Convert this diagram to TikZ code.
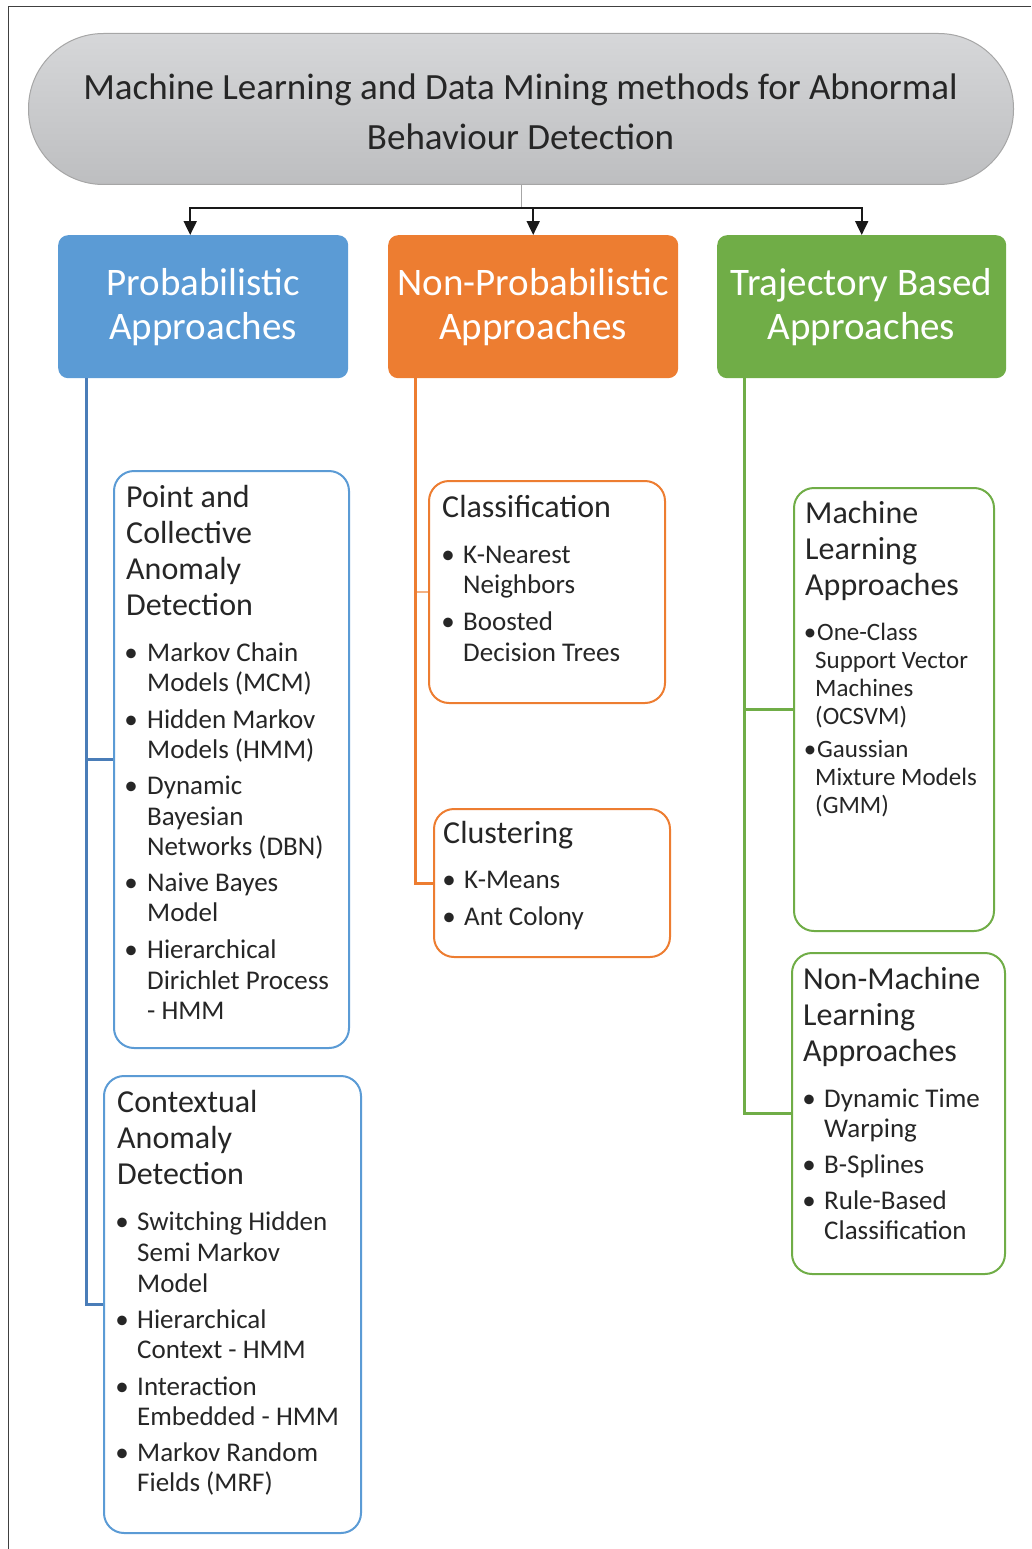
\documentclass[tikz,border=0pt]{standalone}
\usepackage{fontspec}
\setmainfont{Carlito}
\usetikzlibrary{arrows.meta}
\definecolor{txt}{HTML}{262626}
\definecolor{pblue}{HTML}{5B9BD5}
\definecolor{tblue}{HTML}{4A7DB8}
\definecolor{porange}{HTML}{ED7D31}
\definecolor{lorange}{HTML}{F4B183}
\definecolor{pgreen}{HTML}{70AD47}
\definecolor{gtop}{HTML}{D6D7D9}
\definecolor{gbot}{HTML}{BDBEC0}
\definecolor{gedge}{HTML}{A6A6A6}
\begin{document}
\begin{tikzpicture}[x=1pt,y=-1pt,
  catbox/.style={rounded corners=10pt, anchor=north west, inner sep=0pt, draw=none, minimum height=143pt},
  subbox/.style={rounded corners=20pt, anchor=north west, inner sep=0pt, fill=white, line width=2pt},
  titletext/.style={font=\fontsize{37}{44}\selectfont, text=txt, inner sep=0pt, anchor=base},
  cattext/.style={font=\fontsize{39}{44}\selectfont, text=white, inner sep=0pt, anchor=base},
  headtext/.style={font=\fontsize{32}{36}\selectfont, text=txt, inner sep=0pt, anchor=base west},
  itemtext/.style={font=\fontsize{27}{30}\selectfont, text=txt, inner sep=0pt, anchor=base west},
  smalltext/.style={font=\fontsize{25}{28}\selectfont, text=txt, inner sep=0pt, anchor=base west},
  trunk/.style={line width=3pt},
  feed/.style={line width=2pt, black!90, -{Triangle[length=14pt,width=13pt]}},
]
\useasboundingbox (0,0) rectangle (1031,1549);
\draw[black!75, line width=1pt] (8,1549) -- (8,7) -- (1031,7);

% title
\node[minimum width=985pt, minimum height=151pt, rounded corners=75pt, top color=gtop, bottom color=gbot, draw=gedge, line width=1pt, anchor=north west, inner sep=0pt] (title) at (28,33) {};
\node[titletext] (title1) at (520.5,100) {Machine Learning and Data Mining methods for Abnormal};
\node[titletext] (title2) at (520.5,150) {Behaviour Detection};

% category boxes
\node[catbox, fill=pblue, minimum width=290pt] (prob) at (58,235) {};
\node[catbox, fill=porange, minimum width=290pt] (nonprob) at (388,235) {};
\node[catbox, fill=pgreen, minimum width=289pt] (traj) at (717,235) {};
\node[cattext] (prob1) at (203,295) {Probabilistic};
\node[cattext] (prob2) at (203,339) {Approaches};
\node[cattext] (nonprob1) at (533,295) {Non-Probabilistic};
\node[cattext] (nonprob2) at (533,339) {Approaches};
\node[cattext] (traj1) at (861.5,295) {Trajectory Based};
\node[cattext] (traj2) at (861.5,339) {Approaches};

% connectors from title
\coordinate (hub) at ([yshift=-23pt]title.south);
\draw[gedge, line width=1pt] (title.south) -- (hub);
\draw[feed] (hub) -| ([xshift=-13pt]prob.north);
\draw[feed] (hub) -| (nonprob.north);
\draw[feed] (hub) -| (traj.north);

% sub boxes
\node[subbox, draw=pblue, minimum width=235pt, minimum height=577pt] (p1) at (113,470) {};
\node[subbox, draw=pblue, minimum width=257pt, minimum height=457pt] (p2) at (103,1075) {};
\node[subbox, draw=porange, minimum width=236pt, minimum height=222pt] (n1) at (428,480) {};
\node[subbox, draw=porange, minimum width=236pt, minimum height=148pt] (n2) at (433,808) {};
\node[subbox, draw=pgreen, minimum width=200pt, minimum height=443pt] (t1) at (793,487) {};
\node[subbox, draw=pgreen, minimum width=213pt, minimum height=321pt] (t2) at (791,952) {};

% trunks
\coordinate (btop) at ([xshift=28pt]prob.south west);
\coordinate (otop) at ([xshift=27pt]nonprob.south west);
\coordinate (gtopc) at ([xshift=27pt]traj.south west);
\draw[line width=1.5pt, lorange] (otop |- n1.west) -- (n1.west);
\draw[trunk, tblue] (btop) |- (p1.west);
\draw[trunk, tblue] (btop) |- (p2.west);
\draw[trunk, porange] (otop) |- (n2.west);
\draw[trunk, pgreen] (gtopc) |- (t1.west);
\draw[trunk, pgreen] (gtopc) |- (t2.west);

% P1
\foreach \by/\bt [count=\i] in {507/Point and,543/Collective,579/Anomaly,615/Detection}
  \node[headtext] (p1h\i) at (126,\by) {\bt};
\foreach \by/\bt [count=\i] in {661/Markov Chain,691/Models (MCM),728/Hidden Markov,758/Models (HMM),794/Dynamic,825/Bayesian,855/Networks (DBN),891/Naive Bayes,921/Model,958/Hierarchical,989/Dirichlet Process,1019/- HMM}
  \node[itemtext] (p1i\i) at (147,\by) {\bt};
\foreach \by [count=\i] in {661,728,794,891,958}
  \node[itemtext, anchor=base] (p1b\i) at (131,\by) {\textbullet};

% P2
\foreach \by/\bt [count=\i] in {1112/Contextual,1148/Anomaly,1184/Detection}
  \node[headtext] (p2h\i) at (117,\by) {\bt};
\foreach \by/\bt [count=\i] in {1230/Switching Hidden,1261/Semi Markov,1292/Model,1328/Hierarchical,1358/Context - HMM,1395/Interaction,1425/Embedded - HMM,1461/Markov Random,1491/Fields (MRF)}
  \node[itemtext] (p2i\i) at (137,\by) {\bt};
\foreach \by [count=\i] in {1230,1328,1395,1461}
  \node[itemtext, anchor=base] (p2b\i) at (122,\by) {\textbullet};

% N1
\node[headtext] (n1h) at (442,517) {Classification};
\foreach \by/\bt [count=\i] in {563/K-Nearest,593/Neighbors,630/Boosted,661/Decision Trees}
  \node[itemtext] (n1i\i) at (463,\by) {\bt};
\foreach \by [count=\i] in {563,630}
  \node[itemtext, anchor=base] (n1b\i) at (448,\by) {\textbullet};

% N2
\node[headtext] (n2h) at (443,843) {Clustering};
\foreach \by/\bt [count=\i] in {888/K-Means,925/Ant Colony}
  \node[itemtext] (n2i\i) at (464,\by) {\bt};
\foreach \by [count=\i] in {888,925}
  \node[itemtext, anchor=base] (n2b\i) at (449,\by) {\textbullet};

% T1
\foreach \by/\bt [count=\i] in {523/Machine,559/Learning,595/Approaches}
  \node[headtext] (t1h\i) at (805,\by) {\bt};
\node[smalltext] (t1i1) at (817,640) {One-Class};
\foreach \by/\bt [count=\i] in {668/Support Vector,696/Machines,724/(OCSVM)}
  \node[smalltext] (t1j\i) at (815,\by) {\bt};
\node[smalltext] (t1i2) at (817,757) {Gaussian};
\foreach \by/\bt [count=\i] in {785/Mixture Models,813/(GMM)}
  \node[smalltext] (t1k\i) at (815,\by) {\bt};
\foreach \by [count=\i] in {640,757}
  \node[smalltext, anchor=base] (t1b\i) at (810,\by) {\textbullet};

% T2
\foreach \by/\bt [count=\i] in {989/Non-Machine,1025/Learning,1061/Approaches}
  \node[headtext] (t2h\i) at (803,\by) {\bt};
\foreach \by/\bt [count=\i] in {1107/Dynamic Time,1137/Warping,1173/B-Splines,1209/Rule-Based,1239/Classification}
  \node[itemtext] (t2i\i) at (824,\by) {\bt};
\foreach \by [count=\i] in {1107,1173,1209}
  \node[itemtext, anchor=base] (t2b\i) at (809,\by) {\textbullet};
\end{tikzpicture}
\end{document}
